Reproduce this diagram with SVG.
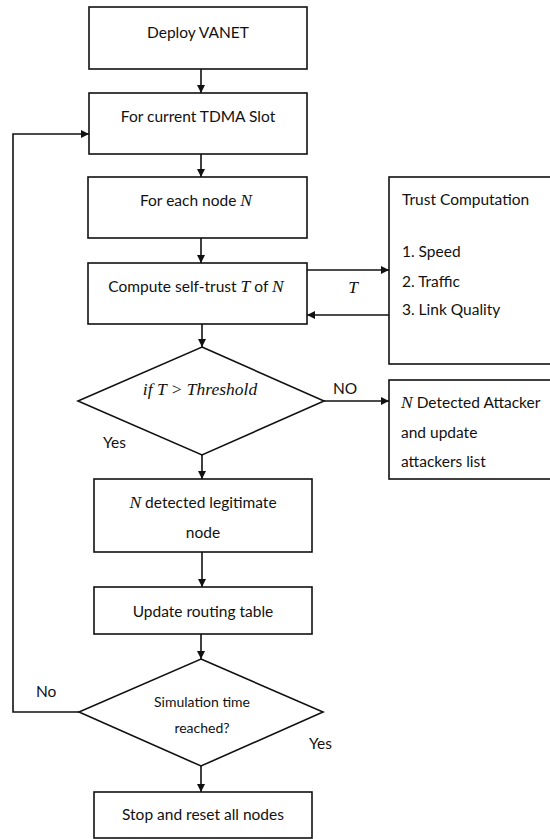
<svg xmlns="http://www.w3.org/2000/svg" width="550" height="839" viewBox="0 0 550 839">
  <style>
    .box { fill: #fff; stroke: #111; stroke-width: 1.6; }
    .edge { fill: none; stroke: #111; stroke-width: 1.6; }
    .t { font-family: Lato, "Open Sans", "Liberation Sans", sans-serif; font-size: 15.5px; fill: #111; }
    .c { text-anchor: middle; }
    .m { font-family: "Liberation Serif", "DejaVu Serif", serif; font-style: italic; font-size: 17.5px; }
    .s { font-size: 14px; }
  </style>
  <defs>
    <marker id="arrow" viewBox="0 0 10 10" refX="10" refY="5" markerWidth="8" markerHeight="8" markerUnits="userSpaceOnUse" orient="auto">
      <path d="M0,0 L10,5 L0,10 z" fill="#111"/>
    </marker>
  </defs>
  <rect width="550" height="839" fill="#fff"/>

  <g id="connectors">
    <line class="edge" x1="201" y1="69" x2="201" y2="93" marker-end="url(#arrow)"/>
    <line class="edge" x1="201" y1="154" x2="201" y2="177" marker-end="url(#arrow)"/>
    <line class="edge" x1="201" y1="238" x2="201" y2="263" marker-end="url(#arrow)"/>
    <line class="edge" x1="307" y1="270" x2="389" y2="270" marker-end="url(#arrow)"/>
    <line class="edge" x1="389" y1="315" x2="307" y2="315" marker-end="url(#arrow)"/>
    <line class="edge" x1="202" y1="324" x2="202" y2="347" marker-end="url(#arrow)"/>
    <line class="edge" x1="324" y1="401" x2="389" y2="401" marker-end="url(#arrow)"/>
    <line class="edge" x1="202" y1="455" x2="202" y2="479" marker-end="url(#arrow)"/>
    <line class="edge" x1="202" y1="552" x2="202" y2="587" marker-end="url(#arrow)"/>
    <line class="edge" x1="201" y1="634" x2="201" y2="659" marker-end="url(#arrow)"/>
    <line class="edge" x1="201" y1="766" x2="201" y2="792" marker-end="url(#arrow)"/>
    <polyline class="edge" points="79,712 13,712 13,134 89,134" marker-end="url(#arrow)"/>
    <text class="t m" x="353" y="293" text-anchor="middle">T</text>
    <text class="t" x="333" y="394">NO</text>
    <text class="t" x="103" y="448">Yes</text>
    <text class="t" x="36" y="697">No</text>
    <text class="t" x="309" y="749">Yes</text>
  </g>

  <g id="deploy">
    <rect class="box" x="89" y="7" width="218" height="62"/>
    <text class="t c" x="198" y="38">Deploy VANET</text>
  </g>

  <g id="tdma-slot">
    <rect class="box" x="89" y="93" width="218" height="61"/>
    <text class="t c" x="198" y="122">For current TDMA Slot</text>
  </g>

  <g id="each-node">
    <rect class="box" x="88" y="177" width="219" height="61"/>
    <text class="t c" x="196" y="206">For each node <tspan class="m">N</tspan></text>
  </g>

  <g id="self-trust">
    <rect class="box" x="88" y="263" width="219" height="61"/>
    <text class="t c" x="196" y="292">Compute self-trust <tspan class="m">T</tspan> of <tspan class="m">N</tspan></text>
  </g>

  <g id="trust-computation">
    <rect class="box" x="389" y="177" width="170" height="187"/>
    <text class="t" x="402" y="205">Trust Computation</text>
    <text class="t" x="402" y="257">1. Speed</text>
    <text class="t" x="402" y="287">2. Traffic</text>
    <text class="t" x="402" y="315">3. Link Quality</text>
  </g>

  <g id="threshold-check">
    <polygon class="box" points="202,347 324,401 202,455 78,401"/>
    <text class="t m c" x="200" y="395" font-size="14">if T &gt; Threshold</text>
  </g>

  <g id="attacker">
    <rect class="box" x="389" y="380" width="170" height="99"/>
    <text class="t" x="401" y="408"><tspan class="m">N</tspan> Detected Attacker</text>
    <text class="t" x="401" y="438">and update</text>
    <text class="t" x="401" y="467">attackers list</text>
  </g>

  <g id="legitimate">
    <rect class="box" x="94" y="479" width="218" height="73"/>
    <text class="t c" x="203" y="508"><tspan class="m">N</tspan> detected legitimate</text>
    <text class="t c" x="203" y="538">node</text>
  </g>

  <g id="routing-table">
    <rect class="box" x="94" y="587" width="218" height="47"/>
    <text class="t c" x="203" y="617">Update routing table</text>
  </g>

  <g id="simulation-check">
    <polygon class="box" points="201,659 323,712 201,766 79,712"/>
    <text class="t s c" x="202" y="707">Simulation time</text>
    <text class="t s c" x="202" y="733">reached?</text>
  </g>

  <g id="stop">
    <rect class="box" x="94" y="792" width="218" height="46"/>
    <text class="t c" x="203" y="820">Stop and reset all nodes</text>
  </g>
</svg>
